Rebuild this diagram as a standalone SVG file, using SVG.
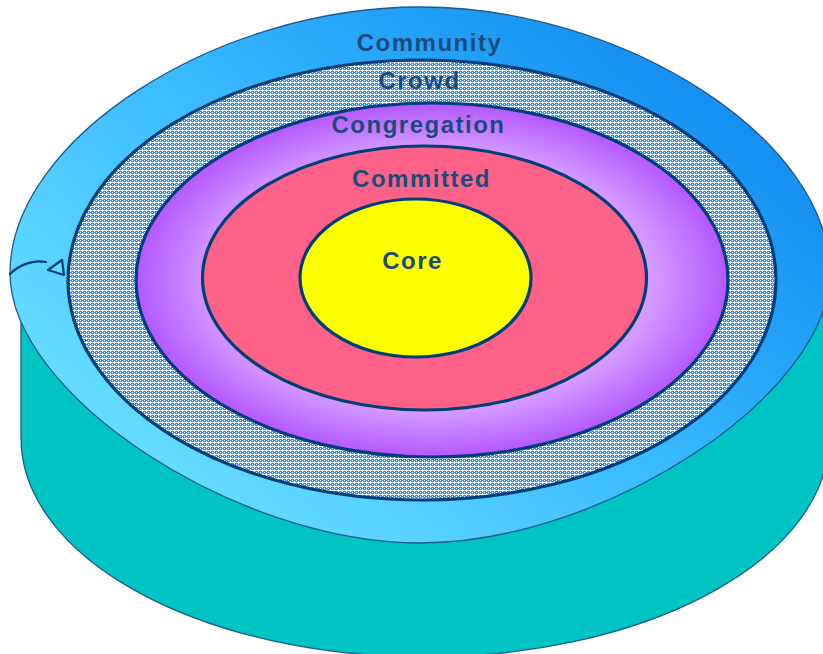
<svg xmlns="http://www.w3.org/2000/svg" width="823" height="654" viewBox="0 0 823 654">
  <defs>
    <linearGradient id="gCommunity" x1="0" y1="1" x2="1" y2="0.2">
      <stop offset="0" stop-color="#7AEAFF"/>
      <stop offset="0.3" stop-color="#58D2FF"/>
      <stop offset="0.55" stop-color="#3ABAFF"/>
      <stop offset="0.75" stop-color="#24A2F8"/>
      <stop offset="1" stop-color="#1088EE"/>
    </linearGradient>
    <pattern id="pCrowd" width="4" height="4" patternUnits="userSpaceOnUse">
      <rect width="4" height="4" fill="#3A90F2"/>
      <rect x="2" y="1" width="1" height="3" fill="#FFFFFF"/>
      <rect x="1" y="2" width="3" height="1" fill="#FFFFFF"/>
      <rect x="0" y="0" width="1" height="1" fill="#FFFFFF"/>
      <rect x="0" y="2" width="1" height="1" fill="#CFE6FF"/>
    </pattern>
    <radialGradient id="gCong" cx="0.5" cy="0.5" r="0.5">
      <stop offset="0" stop-color="#E8C4FF"/>
      <stop offset="0.74" stop-color="#D49CFF"/>
      <stop offset="1" stop-color="#B458FF"/>
    </radialGradient>
  </defs>
  <style>
    .ring { stroke: #003E78; stroke-width: 3.2; }
    .thin { stroke: #1E5A8C; stroke-width: 1.3; }
    .lbl { font-family: "Liberation Sans", Arial, sans-serif; font-weight: bold; font-size: 24px; fill: #1B4B7B; letter-spacing: 1.5px; text-anchor: middle; }
    .pointer { fill: none; stroke: #003E78; stroke-width: 2.2; stroke-linecap: round; stroke-linejoin: round; }
  </style>
  <rect width="823" height="654" fill="#FFFFFF"/>

  <g id="base">
    <path class="thin" d="M 21,273 L 21,438 A 404,219 0 0 0 829,438 L 829,273 Z" fill="#00C4C4"/>
  </g>

  <g id="community">
    <path class="thin" fill="url(#gCommunity)" d="M 10,273 C 10,140 215,7 420,7 C 625,7 830,140 830,273 C 830,394.5 604.5,543 420,543 C 235.5,543 10,394.5 10,273 Z"/>
    <text class="lbl" x="429.5" y="51">Community</text>
  </g>

  <g id="crowd">
    <ellipse class="ring" cx="422" cy="280" rx="354" ry="220" fill="url(#pCrowd)"/>
    <text class="lbl" x="419.5" y="89">Crowd</text>
  </g>

  <g id="congregation">
    <ellipse class="ring" cx="432" cy="280" rx="296" ry="177" fill="url(#gCong)"/>
    <text class="lbl" x="418.5" y="133">Congregation</text>
  </g>

  <g id="committed">
    <ellipse class="ring" cx="424.5" cy="278" rx="222" ry="132" fill="#FF6289"/>
    <text class="lbl" x="421.5" y="187">Committed</text>
  </g>

  <g id="core">
    <ellipse class="ring" cx="415.5" cy="278" rx="115.5" ry="79" fill="#FFFF00"/>
    <text class="lbl" x="412.5" y="269">Core</text>
  </g>

  <g id="connectors">
    <path class="pointer" d="M 10,274 C 18,266 32,259 46,262"/>
    <polygon class="pointer" points="48,270 62,260 64,275" style="fill:#66DDFF"/>
  </g>
</svg>
